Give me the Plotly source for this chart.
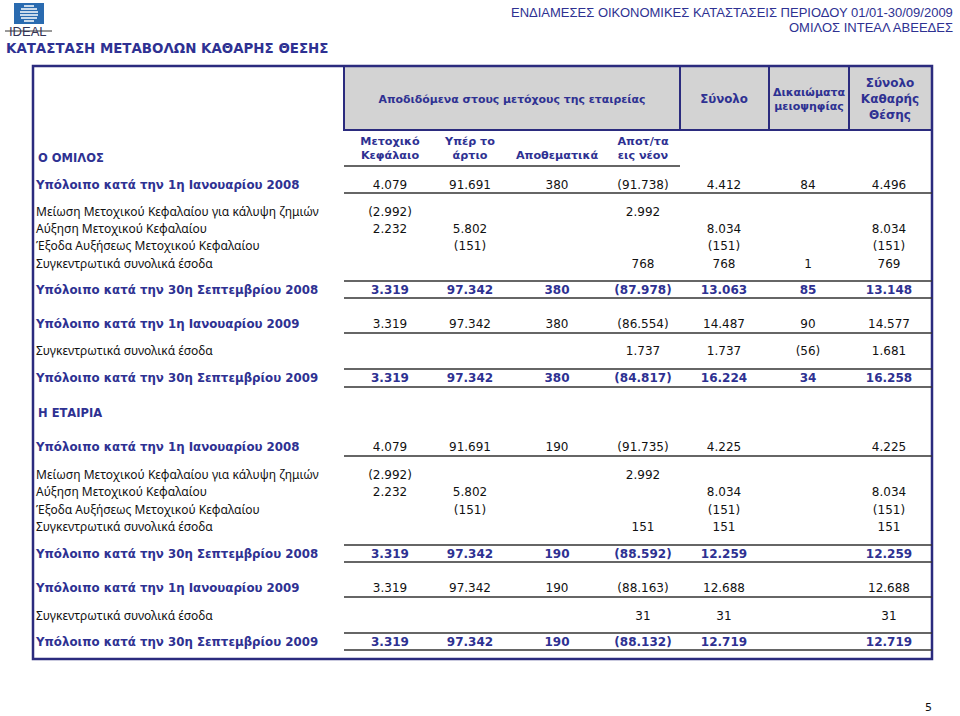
import plotly.graph_objects as go

# column headers
col_heads = ["Μετοχικό<br>Κεφάλαιο", "Υπέρ το<br>άρτιο", "<br>Αποθεματικά", "Αποτ/τα<br>εις νέον"]
top_heads = ["Αποδιδόμενα στους μετόχους της εταιρείας", "Σύνολο",
             "Δικαιώματα<br>μειοψηφίας", "Σύνολο<br>Καθαρής<br>Θέσης"]

row_labels = ["Υπόλοιπο κατά την 1η Ιανουαρίου 2008",
              "Μείωση Μετοχικού Κεφαλαίου για κάλυψη ζημιών",
              "Αύξηση Μετοχικού Κεφαλαίου",
              "Έξοδα Αυξήσεως Μετοχικού Κεφαλαίου",
              "Συγκεντρωτικά συνολικά έσοδα",
              "Υπόλοιπο κατά την 30η Σεπτεμβρίου 2008",
              "Υπόλοιπο κατά την 1η Ιανουαρίου 2009",
              "Συγκεντρωτικά συνολικά έσοδα",
              "Υπόλοιπο κατά την 30η Σεπτεμβρίου 2009"]

# Ο ΟΜΙΛΟΣ
grp_share_capital = [4079, -2992, 2232, None, None, 3319, 3319, None, 3319]
grp_share_premium = [91691, None, 5802, -151, None, 97342, 97342, None, 97342]
grp_reserves = [380, None, None, None, None, 380, 380, None, 380]
grp_retained = [-91738, 2992, None, None, 768, -87978, -86554, 1737, -84817]
grp_total = [4412, None, 8034, -151, 768, 13063, 14487, 1737, 16224]
grp_minority = [84, None, None, None, 1, 85, 90, -56, 34]
grp_equity = [4496, None, 8034, -151, 769, 13148, 14577, 1681, 16258]

# Η ΕΤΑΙΡΙΑ
co_share_capital = [4079, -2992, 2232, None, None, 3319, 3319, None, 3319]
co_share_premium = [91691, None, 5802, -151, None, 97342, 97342, None, 97342]
co_reserves = [190, None, None, None, None, 190, 190, None, 190]
co_retained = [-91735, 2992, None, None, 151, -88592, -88163, 31, -88132]
co_total = [4225, None, 8034, -151, 151, 12259, 12688, 31, 12719]
co_minority = [None, None, None, None, None, None, None, None, None]
co_equity = [4225, None, 8034, -151, 151, 12259, 12688, 31, 12719]

BLUE = "#2E3192"
NAVY = "#2B2B7E"
INK = "#111111"
FONT = "DejaVu Sans"
FONT_REG = "Noto Sans"

col_x = [390, 470, 557, 643, 724, 808, 889]
label_bold = [True, False, False, False, False, True, True, False, True]
num_bold = [False, False, False, False, False, True, False, False, True]
grp_y = [186, 213, 230, 247, 265, 291, 325, 352, 379]
co_y = [448, 476, 493, 511, 528, 555, 589, 617, 643]


def fmt(v):
    if v is None:
        return ""
    s = f"{abs(v):,}".replace(",", ".")
    return f"({s})" if v < 0 else s


fig = go.Figure()


def add_section(cols, ys):
    # labels
    fig.add_trace(go.Scatter(
        x=[36] * len(ys), y=ys, mode="text",
        text=[f"<b>{t}</b>" if b else t for t, b in zip(row_labels, label_bold)],
        textposition="middle right",
        textfont=dict(family=[FONT if b else FONT_REG for b in label_bold],
                      size=[11.8 if b else 12 for b in label_bold],
                      color=[BLUE if b else INK for b in label_bold]),
        hoverinfo="skip", showlegend=False))
    for cx, vals in zip(col_x, cols):
        fig.add_trace(go.Scatter(
            x=[cx] * len(ys), y=ys, mode="text",
            text=[f"<b>{fmt(v)}</b>" if b else fmt(v) for v, b in zip(vals, num_bold)],
            textposition="middle center",
            textfont=dict(family=FONT, size=12,
                          color=[BLUE if b else INK for b in num_bold]),
            hoverinfo="skip", showlegend=False))


add_section([grp_share_capital, grp_share_premium, grp_reserves, grp_retained,
             grp_total, grp_minority, grp_equity], grp_y)
add_section([co_share_capital, co_share_premium, co_reserves, co_retained,
             co_total, co_minority, co_equity], co_y)

# column header texts
fig.add_trace(go.Scatter(
    x=col_x[:4], y=[149] * 4, mode="text",
    text=[f"<b>{h}</b>" for h in col_heads],
    textposition="middle center",
    textfont=dict(family=FONT, size=11.2, color=BLUE),
    hoverinfo="skip", showlegend=False))
fig.add_trace(go.Scatter(
    x=[512, 724, 809, 890], y=[100, 100, 100, 100], mode="text",
    text=[f"<b>{h}</b>" for h in top_heads],
    textposition="middle center",
    textfont=dict(family=FONT, size=[10.9, 11.8, 11, 12], color=BLUE),
    hoverinfo="skip", showlegend=False))

shapes = []
# gray header block
shapes.append(dict(type="rect", x0=344, x1=932, y0=66, y1=130,
                   fillcolor="#D3D3D3", line=dict(color=NAVY, width=2), layer="below"))
for vx in [680, 769, 849]:
    shapes.append(dict(type="line", x0=vx, x1=vx, y0=66, y1=130,
                       line=dict(color=NAVY, width=2)))
# outer frame
shapes.append(dict(type="rect", x0=33, x1=932, y0=66, y1=659,
                   line=dict(color=NAVY, width=2.5)))
# rules
shapes.append(dict(type="line", x0=344, x1=680, y0=166, y1=166,
                   line=dict(color="#333333", width=1.5)))
for ly in [193, 281, 298, 333, 369, 387, 456, 545, 562, 597, 633, 650]:
    shapes.append(dict(type="line", x0=344, x1=932, y0=ly, y1=ly,
                       line=dict(color="#333333", width=1.5)))

# logo
shapes.append(dict(type="rect", x0=14, x1=44, y0=3, y1=24,
                   fillcolor="#2A6BB0", line=dict(width=0)))
for sy, half in [(6, 5), (9, 8), (12, 9), (15, 9), (18, 8), (21, 5)]:
    shapes.append(dict(type="line", x0=29 - half, x1=29 + half, y0=sy, y1=sy,
                       line=dict(color="white", width=1.5)))
shapes.append(dict(type="line", x0=5, x1=52, y0=31, y1=31,
                   line=dict(color="#333333", width=1)))

annotations = [
    dict(x=28, y=31, text="IDEAL", showarrow=False,
         font=dict(family="Liberation Sans", size=13, color="#333355")),
    dict(x=4, y=48, text="<b>ΚΑΤΑΣΤΑΣΗ ΜΕΤΑΒΟΛΩΝ ΚΑΘΑΡΗΣ ΘΕΣΗΣ</b>", showarrow=False,
         xanchor="left", font=dict(family=FONT, size=13.4, color=BLUE)),
    dict(x=955, y=12, text="ΕΝΔΙΑΜΕΣΕΣ ΟΙΚΟΝΟΜΙΚΕΣ ΚΑΤΑΣΤΑΣΕΙΣ ΠΕΡΙΟΔΟΥ 01/01-30/09/2009",
         showarrow=False, xanchor="right",
         font=dict(family="Liberation Sans", size=13, color=BLUE)),
    dict(x=955, y=27, text="ΟΜΙΛΟΣ ΙΝΤΕΑΛ ΑΒΕΕΔΕΣ",
         showarrow=False, xanchor="right",
         font=dict(family="Liberation Sans", size=13, color=BLUE)),
    dict(x=36, y=158, text="<b>Ο ΟΜΙΛΟΣ</b>", showarrow=False, xanchor="left",
         font=dict(family=FONT, size=11.5, color=BLUE)),
    dict(x=36, y=413, text="<b>Η ΕΤΑΙΡΙΑ</b>", showarrow=False, xanchor="left",
         font=dict(family=FONT, size=11.5, color=BLUE)),
    dict(x=928, y=707, text="5", showarrow=False,
         font=dict(family=FONT, size=11, color=INK)),
]

fig.update_layout(
    width=960, height=716,
    margin=dict(l=0, r=0, t=0, b=0),
    paper_bgcolor="white", plot_bgcolor="white",
    xaxis=dict(range=[0, 960], visible=False, fixedrange=True),
    yaxis=dict(range=[716, 0], visible=False, fixedrange=True),
    shapes=shapes, annotations=annotations,
)

fig.write_html("out.html", config={"displayModeBar": False},
               post_script="document.body.style.margin='0px';")
